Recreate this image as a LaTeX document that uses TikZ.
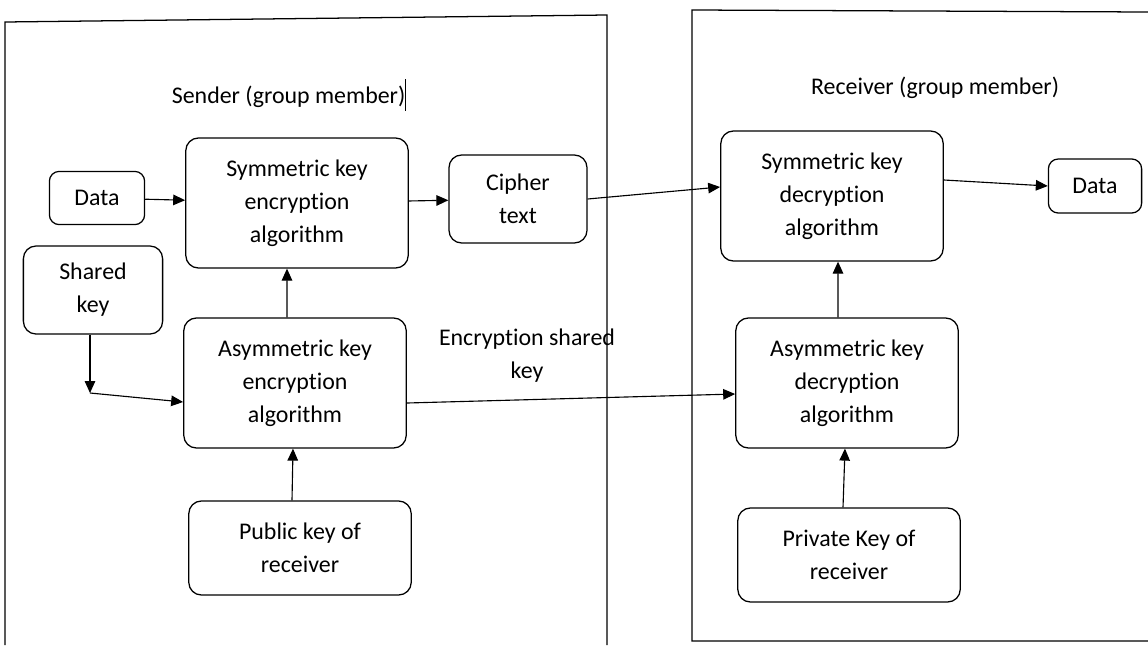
\documentclass[tikz,border=0pt]{standalone}
\usepackage{fontspec}
\setmainfont[Ligatures={NoCommon,NoRare},RawFeature=-liga,RawFeature=-clig,RawFeature=-calt]{Carlito}
\usetikzlibrary{positioning}
\usetikzlibrary{arrows.meta}

\begin{document}
\begin{tikzpicture}[x=0.025cm,y=-0.025cm]
  \tikzstyle{block}=[rectangle,draw=black,line width=0.9pt,rounded corners=9pt,align=center,font=\fontsize{17}{23.4}\selectfont,inner sep=2pt]
  \tikzstyle{algo}=[block,minimum width=5.56cm,minimum height=3.25cm]
  \tikzstyle{keybox}=[block,minimum width=5.56cm,minimum height=2.35cm]
  \tikzstyle{title}=[font=\fontsize{17}{23.4}\selectfont]
  \tikzstyle{arr}=[-{Triangle[length=8.5pt,width=7.5pt]},line width=0.8pt]

  \useasboundingbox (0,0) rectangle (1148,645);

  % frames
  \draw[line width=0.9pt] (5,645) -- (5,22) -- (607,15) -- (607,645);
  \draw[line width=0.9pt] (1148,12) -- (692,10) -- (692,641) -- (1148,641);

  \node[title] (sendertitle) at (289,95) {Sender (group member)\rule[-0.3em]{0.6pt}{1.3em}};
  \node[title] (receivertitle) at (935,88) {Receiver (group member)};

  \node[algo] (symenc) at (297,203) {Symmetric key\\encryption\\algorithm};
  \node[block,minimum width=2.38cm,minimum height=1.33cm,rounded corners=7pt] (dataS) at (97,198) {Data};
  \node[block,minimum width=3.45cm,minimum height=2.2cm] (cipher) at (518,199) {Cipher\\text};
  \node[block,minimum width=3.48cm,minimum height=2.2cm] (sharedkey) at (93,290) {Shared\\key};
  \node[algo] (asymenc) at (295,383) {Asymmetric key\\encryption\\algorithm};
  \node[keybox] (pubkey) at (300,548) {Public key of\\receiver};
  \node[title,align=center] (enclabel) at (527,356) {Encryption shared\\key};

  \node[algo] (symdec) at (832,196) {Symmetric key\\decryption\\algorithm};
  \node[block,minimum width=2.33cm,minimum height=1.35cm,rounded corners=7pt] (dataR) at (1095,186) {Data};
  \node[algo] (asymdec) at (847,383) {Asymmetric key\\decryption\\algorithm};
  \node[keybox] (privkey) at (849,555) {Private Key of\\receiver};

  \coordinate (bend) at (90,393);

  \draw[arr] (dataS) -- (symenc);
  \draw[arr] (symenc) -- (cipher);
  \draw[arr] (cipher.east) -- ([yshift=0.225cm]symdec.west);
  \draw[arr] ([yshift=0.4cm]symdec.east) -- (dataR.west);
  \draw[arr] ([xshift=-0.2cm]asymenc.north) -- ([xshift=-0.25cm]symenc.south);
  \draw[arr] (sharedkey.south -| bend) -- (bend);
  \draw[arr] (bend) -- ([yshift=-0.475cm]asymenc.west);
  \draw[arr] ([xshift=-0.2cm]pubkey.north) -- ([xshift=-0.05cm]asymenc.south);
  \draw[arr] ([yshift=-0.5cm]asymenc.east) -- ([yshift=-0.275cm]asymdec.west);
  \draw[arr] ([xshift=-0.15cm]privkey.north) -- ([xshift=-0.05cm]asymdec.south);
  \draw[arr] ([xshift=-0.225cm]asymdec.north) -- ([xshift=0.15cm]symdec.south);
\end{tikzpicture}
\end{document}
